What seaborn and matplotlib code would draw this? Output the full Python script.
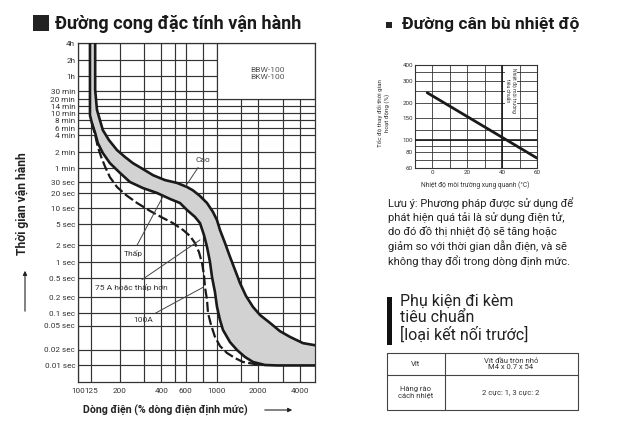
"""
Duong cong dac tinh van hanh + duong can bu nhiet do (BBW-100 / BKW-100)
"""
import numpy as np
import pandas as pd
import matplotlib
matplotlib.use('Agg')
import matplotlib.pyplot as plt
from matplotlib.patches import Rectangle
from matplotlib.ticker import (FixedLocator, NullLocator, FixedFormatter,
                               NullFormatter)
import seaborn as sns

# -- Truc thoi gian (giay) va nhan --
TIME_TICKS = [14400, 7200, 3600, 1800, 1200, 840, 600, 480, 360, 240, 120, 60,
              30, 20, 10, 5, 2, 1, 0.5, 0.2, 0.1, 0.05, 0.02, 0.01]
TIME_LABELS = ["4h", "2h", "1h", "30 min", "20 min", "14 min", "10 min",
               "8 min", "6 min", "4 min", "2 min", "1 min", "30 sec", "20 sec",
               "10 sec", "5 sec", "2 sec", "1 sec", "0.5 sec", "0.2 sec",
               "0.1 sec", "0.05 sec", "0.02 sec", "0.01 sec"]
# chieu cao (px) cua moi vach tren thang thoi gian khong deu cua ban goc
TIME_TICK_H = [339, 322, 306, 291, 283, 276, 269, 262, 254, 247, 230, 214,
               200, 189, 174, 158, 137, 120, 104, 85, 69, 56, 32, 17]

# -- Truc dong dien (% dong dinh muc) --
CURRENT_TICKS = [100, 125, 200, 400, 600, 1000, 2000, 4000]
CURRENT_GRID = [300, 500, 800, 1500, 3000]

# -- Duong cong --
CAO_I = [133, 133, 137, 151, 167, 191, 218, 249, 294, 348, 424, 518, 611, 676,
         759, 853, 942, 1007, 1058, 1150, 1250, 1358, 1476, 1630, 1831, 2056,
         2428, 2866, 3386, 4200, 5130]
CAO_T = [14400, 1900, 700, 320, 196, 130, 97, 74, 57, 42, 33, 29, 25, 22,
         17.4, 12.6, 8.4, 5.9, 3.85, 2.18, 1.23, 0.71, 0.39, 0.21, 0.13, 0.09,
         0.059, 0.041, 0.033, 0.026, 0.024]

THAP_I = [122, 122, 126, 133, 139, 151, 170, 201, 237, 294, 372, 461, 544,
          611, 698, 759, 811, 853, 896, 927, 973, 1007, 1058, 1112, 1250, 1403,
          1603, 1831, 2235, 2728, 5130]
THAP_T = [14400, 560, 430, 269, 173, 115, 74, 47, 30, 24, 20, 15.2, 12.6, 9.2,
          6.8, 5.2, 3.09, 1.85, 1.0, 0.52, 0.255, 0.13, 0.069, 0.043, 0.027,
          0.02, 0.0145, 0.0115, 0.0100, 0.0098, 0.0098]

A75_I = [126, 133, 139, 147, 157, 170, 191, 222, 267, 331, 410, 484, 573, 643,
         698, 746, 785, 811, 825, 853, 867, 912, 973, 1058, 1189, 1358, 1550,
         2056]
A75_T = [430, 240, 147, 97, 63, 38, 25, 18.2, 12.6, 8.8, 6.5, 5.2, 3.85, 2.96,
         2.18, 1.50, 0.96, 0.57, 0.32, 0.176, 0.1, 0.053, 0.033, 0.0233,
         0.0174, 0.0138, 0.0115, 0.0100]

# -- Duong can bu nhiet do --
TEMP = [-3, 60]
RATE = [240, 72]
REF_TEMP = 40
REF_RATE = 100
RATE_TICKS = [60, 80, 100, 150, 200, 300, 400]
RATE_GRID = [70, 90, 120, 250, 350]
TEMP_TICKS = [0, 20, 40, 60]

# -- Thang thoi gian --
_logs = np.log10([1e-4, 0.0046] + TIME_TICKS[::-1] + [1e6])
_hs = np.array([-83, 0] + TIME_TICK_H[::-1] + [442], dtype=float)


def t_forward(t):
    t = np.asarray(t, dtype=float)
    return np.interp(np.log10(np.maximum(t, 1e-12)), _logs, _hs)


def t_inverse(h):
    return 10 ** np.interp(np.asarray(h, dtype=float), _hs, _logs)


sns.set_theme(style="white")
plt.rcParams['font.family'] = ['Roboto', 'DejaVu Sans']

W, H = 620, 428
fig = plt.figure(figsize=(6.2, 4.28), dpi=100)
fig.patch.set_facecolor('white')


def frame(l, t, r, b):
    return [l / W, 1 - b / H, (r - l) / W, (b - t) / H]


LINE = '#1a1a1a'
GRID = '#333333'

# ================= bieu do chinh =================
ax = fig.add_axes(frame(78, 43, 315, 382))

band_x = CAO_I + THAP_I[::-1]
band_y = CAO_T + THAP_T[::-1]
ax.fill(band_x, band_y, color='#d2d2d2', lw=0, zorder=1)

df_cao = pd.DataFrame({'current': CAO_I, 'time': CAO_T})
df_thap = pd.DataFrame({'current': THAP_I, 'time': THAP_T})
df_75 = pd.DataFrame({'current': A75_I, 'time': A75_T})
sns.lineplot(data=df_cao, x='current', y='time', ax=ax, sort=False,
             estimator=None, color=LINE, lw=1.9, zorder=4)
sns.lineplot(data=df_thap, x='current', y='time', ax=ax, sort=False,
             estimator=None, color=LINE, lw=1.9, zorder=4)
sns.lineplot(data=df_75, x='current', y='time', ax=ax, sort=False,
             estimator=None, color=LINE, lw=1.6, ls=(0, (4.5, 1.5)), zorder=4)

ax.set_xscale('log')
ax.set_yscale('function', functions=(t_forward, t_inverse))
ax.set_xlim(100, 5130)
ax.set_ylim(0.0046, 14400)

ax.xaxis.set_major_locator(FixedLocator(CURRENT_TICKS))
ax.xaxis.set_major_formatter(FixedFormatter([str(v) for v in CURRENT_TICKS]))
ax.xaxis.set_minor_locator(FixedLocator(CURRENT_GRID))
ax.xaxis.set_minor_formatter(NullFormatter())
ax.yaxis.set_major_locator(FixedLocator(TIME_TICKS))
ax.yaxis.set_major_formatter(FixedFormatter(TIME_LABELS))
ax.yaxis.set_minor_locator(NullLocator())
ax.grid(True, which='both', color=GRID, lw=0.85, zorder=0)
ax.set_axisbelow(True)
ax.tick_params(axis='both', which='both', length=0, pad=2, colors='#333')
ax.tick_params(axis='y', labelsize=5.9)
ax.tick_params(axis='x', labelsize=5.9, pad=4)
for s in ax.spines.values():
    s.set_color(GRID)
    s.set_linewidth(0.9)
ax.set_xlabel('')
ax.set_ylabel('')

# o ten san pham
ax.add_patch(Rectangle((1000, 1200), 5130 - 1000, 14400 - 1200,
                       facecolor='white', edgecolor=GRID, lw=0.85, zorder=2))
ax.text(0.80, 0.91, 'BBW-100\nBKW-100', transform=ax.transAxes, ha='center',
        va='center', fontsize=6, color='#555', linespacing=1.3, zorder=3)

arrow = dict(arrowstyle='-', color='#444', lw=0.7, shrinkA=1, shrinkB=0)
ax.annotate('Cao', xy=(600, 26), xytext=(800, 85), fontsize=6, color='#333',
            ha='center', va='center', arrowprops=arrow, zorder=5)
ax.annotate('Thấp', xy=(410, 17), xytext=(249, 1.44), fontsize=6,
            color='#333', ha='center', va='center', arrowprops=arrow, zorder=5)
ax.annotate('75 A hoặc thấp hơn', xy=(760, 2.5), xytext=(241, 0.32),
            fontsize=6, color='#333', ha='center', va='center',
            arrowprops=arrow, zorder=5)
ax.annotate('100A', xy=(800, 0.32), xytext=(294, 0.069), fontsize=6,
            color='#333', ha='center', va='center', arrowprops=arrow, zorder=5)

# ================= duong can bu nhiet do =================
ax2 = fig.add_axes(frame(415, 65, 537, 168))
sns.lineplot(x=TEMP, y=RATE, ax=ax2, color=LINE, lw=2.0, zorder=4)
ax2.set_yscale('log')
ax2.set_xlim(-10, 60)
ax2.set_ylim(60, 400)
ax2.yaxis.set_major_locator(FixedLocator(RATE_TICKS))
ax2.yaxis.set_major_formatter(FixedFormatter([str(v) for v in RATE_TICKS]))
ax2.yaxis.set_minor_locator(FixedLocator(RATE_GRID))
ax2.yaxis.set_minor_formatter(NullFormatter())
ax2.xaxis.set_major_locator(FixedLocator(TEMP_TICKS))
ax2.xaxis.set_minor_locator(FixedLocator([-10, 10, 30, 50]))
ax2.xaxis.set_minor_formatter(NullFormatter())
ax2.grid(True, which='both', color=GRID, lw=0.6, zorder=0)
ax2.axvline(REF_TEMP, color=LINE, lw=1.2, zorder=3)
ax2.axhline(REF_RATE, color=LINE, lw=1.2, zorder=3)
ax2.tick_params(axis='both', which='both', length=0, pad=1.5,
                labelsize=4.5, colors='#333')
for s in ax2.spines.values():
    s.set_color(GRID)
    s.set_linewidth(0.8)
ax2.text(45, 250, 'Nhiệt độ môi trường\ntiêu chuẩn', rotation=270,
         ha='center', va='center', fontsize=3.6, color='#333',
         linespacing=1.2, zorder=5,
         bbox=dict(facecolor='white', edgecolor='none', pad=0.6))
ax2.set_xlabel('')
ax2.set_ylabel('')

# ================= chu va trang tri =================
ov = fig.add_axes([0, 0, 1, 1])
ov.set_xlim(0, W)
ov.set_ylim(H, 0)
ov.axis('off')

ov.add_patch(Rectangle((33, 15), 16, 16, facecolor='#222', edgecolor='none'))
ov.text(55, 24, 'Đường cong đặc tính vận hành', fontsize=13,
        fontweight='bold', color='#1a1a1a', va='center', ha='left')
ov.add_patch(Rectangle((386, 22), 6, 6, facecolor='#222', edgecolor='none'))
ov.text(402, 24, 'Đường cân bù nhiệt độ', fontsize=12.5, fontweight='bold',
        color='#1a1a1a', va='center', ha='left')

ov.text(23, 204, 'Thời gian vận hành', rotation=90, fontsize=8.7,
        fontweight='bold', color='#222', ha='center', va='center')
ov.annotate('', xy=(25, 268), xytext=(25, 314),
            arrowprops=dict(arrowstyle='-|>', color='#222', lw=0.8,
                            mutation_scale=6))
ov.text(83, 410, 'Dòng điện (% dòng điện định mức)', fontsize=7.7,
        fontweight='bold', color='#222', ha='left', va='center')
ov.annotate('', xy=(295, 410), xytext=(262, 410),
            arrowprops=dict(arrowstyle='-|>', color='#222', lw=0.8,
                            mutation_scale=6))

ov.text(384, 113, 'Tốc độ thay đổi thời gian\nhoạt động (%)', rotation=90,
        fontsize=4.5, color='#333', ha='center', va='center',
        linespacing=1.2)
ov.text(475, 185, 'Nhiệt độ môi trường xung quanh (°C)', fontsize=4.8,
        color='#333', ha='center', va='center')

ov.text(388, 197, 'Lưu ý: Phương pháp được sử dụng để\n'
        'phát hiện quá tải là sử dụng điện tử,\n'
        'do đó đồ thị nhiệt độ sẽ tăng hoặc\n'
        'giảm so với thời gian dẫn điện, và sẽ\n'
        'không thay đổi trong dòng định mức.',
        fontsize=8, color='#222', ha='left', va='top', linespacing=1.32)

ov.add_patch(Rectangle((387, 297), 5, 48, facecolor='#111', edgecolor='none'))
ov.text(400, 294, 'Phụ kiện đi kèm\ntiêu chuẩn\n[loại kết nối trước]',
        fontsize=11.5, color='#222', ha='left', va='top', linespacing=1.12)

tbl = dict(color='#444', lw=0.8)
ov.plot([387, 578, 578, 387, 387], [353, 353, 410, 410, 353], **tbl)
ov.plot([445, 445], [353, 410], **tbl)
ov.plot([387, 578], [375, 375], **tbl)
ov.text(416, 364, 'Vít', fontsize=5.5, color='#333', ha='center', va='center')
ov.text(511, 364, 'Vít đầu tròn nhỏ\nM4 x 0.7 x 54', fontsize=5.5,
        color='#333', ha='center', va='center', linespacing=1.1)
ov.text(416, 392, 'Hàng rào\ncách nhiệt', fontsize=5.5, color='#333',
        ha='center', va='center', linespacing=1.1)
ov.text(511, 392, '2 cực: 1, 3 cực: 2', fontsize=5.5, color='#333',
        ha='center', va='center')

fig.savefig('out.png', dpi=100, facecolor='white')
